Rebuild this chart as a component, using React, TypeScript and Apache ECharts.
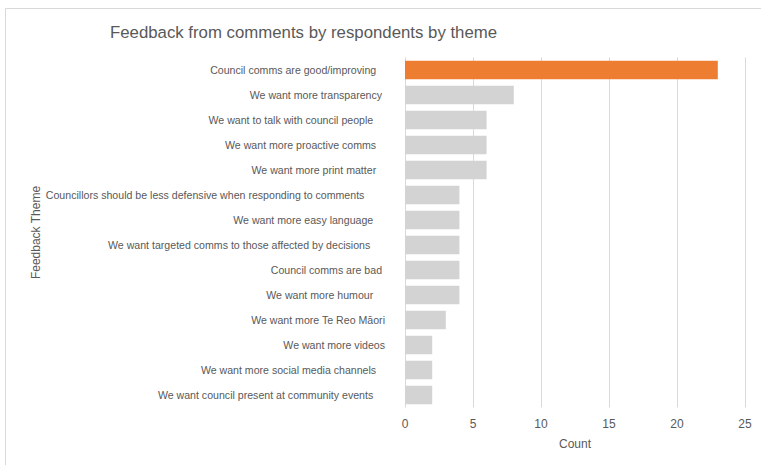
import React, { useEffect, useRef } from "react";
import * as echarts from "echarts";

const categories = [
  "Council comms are good/improving   ",
  "We want more transparency ",
  "We want to talk with council people    ",
  "We want more proactive comms   ",
  "We want more print matter   ",
  "Councillors should be less defensive when responding to comments       ",
  "We want more easy language    ",
  "We want targeted comms to those affected by decisions     ",
  "Council comms are bad ",
  "We want more humour    ",
  "We want more Te Reo Māori",
  "We want more videos",
  "We want more social media channels   ",
  "We want council present at community events    ",
];
const counts = [23, 8, 6, 6, 6, 4, 4, 4, 4, 4, 3, 2, 2, 2];
const xTicks = [0, 5, 10, 15, 20, 25];

const FONT = "Liberation Sans, Arial, sans-serif";
const TXT = "#595959";

export default function App() {
  const ref = useRef<HTMLDivElement>(null);
  useEffect(() => {
    const chart = echarts.init(ref.current!, null, { renderer: "svg" });
    chart.setOption({
      animation: false,
      backgroundColor: "#ffffff",
      title: {
        text: "Feedback from comments by respondents by theme",
        left: 105,
        top: 19,
        textStyle: { fontFamily: FONT, fontSize: 16.8, fontWeight: "normal", color: TXT },
      },
      graphic: [
        {
          type: "rect",
          shape: { x: 5.5, y: 8.5, width: 800, height: 500 },
          style: { fill: "none", stroke: "#d9d9d9", lineWidth: 1 },
          silent: true,
        },
      ],
      grid: { left: 405, right: 16, top: 57.5, bottom: 57.5, containLabel: false },
      xAxis: {
        type: "value",
        min: xTicks[0],
        max: xTicks[xTicks.length - 1],
        interval: 5,
        name: "Count",
        nameLocation: "middle",
        nameGap: 30,
        nameTextStyle: { fontFamily: FONT, fontSize: 12, color: TXT },
        axisLine: { show: false },
        axisTick: { show: false },
        axisLabel: { fontFamily: FONT, fontSize: 12, color: TXT, margin: 10 },
        splitLine: { show: true, lineStyle: { color: "#d9d9d9", width: 1 } },
      },
      yAxis: {
        type: "category",
        inverse: true,
        data: categories,
        name: "Feedback Theme",
        nameLocation: "middle",
        nameGap: 360,
        nameRotate: 90,
        nameTextStyle: { fontFamily: FONT, fontSize: 12, color: TXT },
        axisLine: { show: false },
        axisTick: { show: false },
        axisLabel: { fontFamily: FONT, fontSize: 10.6, color: TXT, margin: 20, interval: 0 },
        splitLine: { show: false },
      },
      series: [
        {
          type: "bar",
          data: counts.map((v, i) => ({
            value: v,
            itemStyle: { color: i === 0 ? "#ED7D31" : "#D3D3D3" },
          })),
          barCategoryGap: "26%",
        },
      ],
    });
    return () => chart.dispose();
  }, []);
  return (
    <div
      ref={ref}
      style={{ position: "absolute", left: 0, top: 0, width: 761, height: 465 }}
    />
  );
}
